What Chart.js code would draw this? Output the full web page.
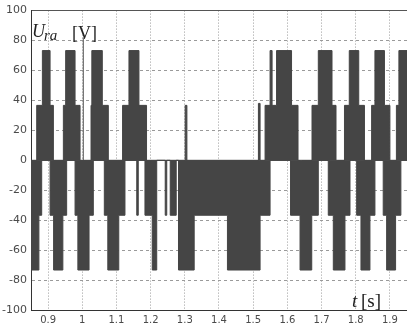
<!DOCTYPE html>
<html>
<head>
<meta charset="utf-8">
<script src="https://cdn.jsdelivr.net/npm/chart.js@4.4.1/dist/chart.umd.min.js"></script>
<style>
  html, body { margin: 0; padding: 0; background: #fff; }
  #wrap { width: 407px; height: 323px; }
</style>
</head>
<body>
<div id="wrap"><canvas id="chart" width="407" height="323"></canvas></div>
<script>
// ===== data =====
// positive envelope: level holds from each time until the next one
const posT = [0.845, 0.8667, 0.8833, 0.9058, 0.9155, 0.9447, 0.9514, 0.9789, 0.9935,
  1.0256, 1.0280, 1.0586, 1.0762, 1.1179, 1.1366, 1.1658, 1.1880, 1.3011, 1.3061,
  1.5153, 1.5202, 1.5348, 1.5494, 1.5553, 1.5684, 1.6122, 1.6312, 1.6721, 1.6905,
  1.7306, 1.7423, 1.7671, 1.7811, 1.8088, 1.8255, 1.8465, 1.8562, 1.8840, 1.9000,
  1.9190, 1.9263, 1.955];
const posV = [0, 36.7, 73.3, 36.7, 0, 36.7, 73.3, 36.7, 0,
  36.7, 73.3, 36.7, 0, 36.7, 73.3, 36.7, 0, 36.7, 0,
  38, 0, 36.7, 73.3, 36.7, 73.3, 36.7, 0, 36.7, 73.3,
  36.7, 0, 36.7, 73.3, 36.7, 0, 36.7, 73.3, 36.7, 0,
  36.7, 73.3, 73.3];

// negative envelope
const negT = [0.845, 0.8498, 0.8731, 0.8813, 0.9058, 0.9161, 0.9432, 0.9543, 0.9789,
  0.9871, 1.0198, 1.0323, 1.0645, 1.0747, 1.1068, 1.1249, 1.1594, 1.1638, 1.1834,
  1.2047, 1.2178, 1.2427, 1.2471, 1.2573, 1.2748, 1.2815, 1.3274, 1.4247, 1.5202,
  1.5494, 1.6093, 1.6371, 1.6713, 1.6905, 1.7197, 1.7344, 1.7685, 1.7832, 1.8027,
  1.8153, 1.8416, 1.8562, 1.8804, 1.8904, 1.9166, 1.9321, 1.955];
const negV = [-36.7, -73.3, -36.7, 0, -36.7, -73.3, -36.7, 0, -36.7,
  -73.3, -36.7, 0, -36.7, -73.3, -36.7, 0, -36.7, 0, -36.7,
  -73.3, 0, -36.7, 0, -36.7, 0, -73.3, -36.7, -73.3, -36.7,
  0, -36.7, -73.3, -36.7, 0, -36.7, -73.3, -36.7, 0, -36.7,
  -73.3, -36.7, 0, -36.7, -73.3, -36.7, 0, 0];

// thin vertical trace near t = 1
const spikeT = [1.003, 1.003];
const spikeV = [0, 82];

// light gaps seen inside the dark blocks (vertical ones)
const gapT = [1.7881, 1.7957, 1.7443, 1.6400];
const gapLo = [0, 0, 0, 0];
const gapHi = [36.7, 36.7, -36.7, -36.7];
// light horizontal stripes in the pulse near t = 1.15
const stripeT0 = [1.1366, 1.1366];
const stripeT1 = [1.1658, 1.1658];
const stripeV = [70, 66];

const xTickVals = [0.9, 1.0, 1.1, 1.2, 1.3, 1.4, 1.5, 1.6, 1.7, 1.8, 1.9];
const xTickLabels = ['0.9', '1', '1.1', '1.2', '1.3', '1.4', '1.5', '1.6', '1.7', '1.8', '1.9'];

const toPoints = (ts, vs) => ts.map((t, i) => ({ x: t, y: vs[i] }));

// vertical segments separated by gaps
function segV(ts, lo, hi) {
  const out = [];
  ts.forEach((t, i) => { out.push({ x: t, y: lo[i] }, { x: t, y: hi[i] }, { x: t, y: null }); });
  return out;
}
// horizontal segments separated by gaps
function segH(t0, t1, vs) {
  const out = [];
  vs.forEach((v, i) => { out.push({ x: t0[i], y: v }, { x: t1[i], y: v }, { x: t1[i], y: null }); });
  return out;
}

const FILL = '#454545';

// axis titles drawn on top
const titles = {
  id: 'titles',
  afterDraw(chart) {
    const ctx = chart.ctx;
    ctx.save();
    ctx.fillStyle = '#222';
    ctx.textBaseline = 'alphabetic';
    ctx.font = 'italic 18px "Liberation Serif"';
    ctx.fillText('U', 32, 37);
    ctx.font = 'italic 15px "Liberation Serif"';
    ctx.fillText('ra', 44, 40);
    ctx.font = '18px "Liberation Serif"';
    ctx.fillText('[V]', 72, 39);
    ctx.font = 'italic 19px "Liberation Serif"';
    ctx.fillText('t', 352, 307);
    ctx.font = '19px "Liberation Serif"';
    ctx.fillText('[s]', 361, 307);
    ctx.restore();
  }
};

new Chart(document.getElementById('chart'), {
  type: 'line',
  data: {
    datasets: [
      {
        data: toPoints(posT, posV),
        stepped: true,
        fill: 'origin',
        backgroundColor: FILL,
        borderColor: FILL,
        borderWidth: 1,
        pointRadius: 0
      },
      {
        data: toPoints(negT, negV),
        stepped: true,
        fill: 'origin',
        backgroundColor: FILL,
        borderColor: FILL,
        borderWidth: 1,
        pointRadius: 0
      },
      {
        data: toPoints(spikeT, spikeV),
        fill: false,
        borderColor: '#555',
        borderWidth: 1,
        pointRadius: 0
      },
      {
        data: segV(gapT, gapLo, gapHi).concat(segH(stripeT0, stripeT1, stripeV)),
        fill: false,
        spanGaps: false,
        borderColor: '#d8d8d8',
        borderWidth: 1,
        pointRadius: 0
      }
    ]
  },
  options: {
    responsive: false,
    animation: false,
    layout: { padding: { top: 10, right: 0, left: 0, bottom: 0 } },
    plugins: {
      legend: { display: false },
      tooltip: { enabled: false }
    },
    scales: {
      x: {
        type: 'linear',
        min: 0.85,
        max: 1.95,
        afterBuildTicks: s => { s.ticks = xTickVals.map(v => ({ value: v })); },
        afterFit: s => { s.height = 13; },
        ticks: {
          callback: (v, i) => xTickLabels[i],
          autoSkip: false,
          maxRotation: 0,
          padding: 4,
          color: '#4a4a4a',
          font: { family: 'DejaVu Sans', size: 10 }
        },
        grid: { color: '#9a9a9a', drawTicks: false, lineWidth: 1 },
        border: { display: true, color: '#333', width: 1, dash: [1, 2] }
      },
      y: {
        min: -100,
        max: 100,
        afterFit: s => { s.width = 31; },
        ticks: {
          stepSize: 20,
          padding: 4,
          color: '#4a4a4a',
          font: { family: 'DejaVu Sans', size: 11 }
        },
        grid: {
          drawTicks: false,
          lineWidth: 1,
          color: c => {
            const v = c.tick ? c.tick.value : 0;
            if (v === 100 || v === -100) return '#555';
            if (v === 0) return '#666';
            return '#9a9a9a';
          }
        },
        border: {
          display: true,
          color: '#333',
          width: 1,
          dash: c => {
            const v = c.tick ? c.tick.value : 0;
            return (v === 0 || v === 100 || v === -100) ? [] : [3, 3];
          }
        }
      }
    }
  },
  plugins: [titles]
});
</script>
</body>
</html>
